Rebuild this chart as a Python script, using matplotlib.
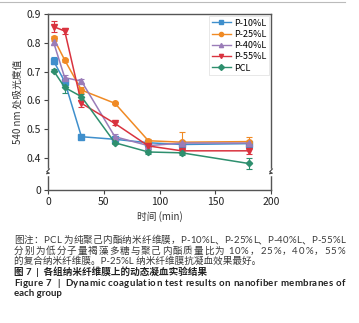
import numpy as np
import matplotlib
matplotlib.use("Agg")
import matplotlib.pyplot as plt
from matplotlib.lines import Line2D

plt.rcParams['font.family'] = ['Noto Sans CJK SC', 'DejaVu Sans']

# time points (min)
t = [5, 15, 30, 60, 90, 120, 180]

series_names = ['P-10%L', 'P-25%L', 'P-40%L', 'P-55%L', 'PCL']
p10 = [0.737, 0.665, 0.474, 0.465, 0.453, 0.447, 0.450]
p25 = [0.816, 0.740, 0.636, 0.590, 0.460, 0.455, 0.457]
p40 = [0.802, 0.679, 0.667, 0.474, 0.443, 0.452, 0.452]
p55 = [0.856, 0.841, 0.590, 0.520, 0.442, 0.425, 0.425]
pcl = [0.703, 0.645, 0.613, 0.453, 0.421, 0.418, 0.381]

p10_err = [0.012, 0.008, 0.004, 0.004, 0.004, 0.006, 0.005]
p25_err = [0.008, 0.005, 0.010, 0.004, 0.005, 0.036, 0.017]
p40_err = [0.008, 0.008, 0.006, 0.008, 0.004, 0.005, 0.006]
p55_err = [0.020, 0.012, 0.012, 0.005, 0.005, 0.008, 0.010]
pcl_err = [0.006, 0.020, 0.010, 0.006, 0.008, 0.006, 0.020]

colors = ['#3f8fcc', '#f08a24', '#9a7cb8', '#d9333f', '#2e8f6e']
markers = ['s', 'o', '^', 'v', 'D']

values = [p10, p25, p40, p55, pcl]
errors = [p10_err, p25_err, p40_err, p55_err, pcl_err]

# caption lines: text, weight, justified
caption = [
    ('图注：PCL 为纯聚己内酯纳米纤维膜，P-10%L、P-25%L、P-40%L、P-55%L', 'normal', True),
    ('分别为低分子量褐藻多糖与聚己内酯质量比为 10%，25%，40%，55%', 'normal', True),
    ('的复合纳米纤维膜。P-25%L 纳米纤维膜抗凝血效果最好。', 'normal', False),
    ('图 7  |  各组纳米纤维膜上的动态凝血实验结果', 'bold', False),
    ('Figure 7  |  Dynamic coagulation test results on nanofiber membranes of', 'bold', True),
    ('each group', 'bold', False),
]
caption_y = [243, 254, 264, 275, 286, 296]  # baselines, px from top

# broken y axis: compress 0..yb into a short strip
yb = 0.348
k = 0.059 / yb


def fwd(y):
    y = np.asarray(y, dtype=float)
    return np.where(y >= yb, y, yb - (yb - y) * k)


def inv(y):
    y = np.asarray(y, dtype=float)
    return np.where(y >= yb, y, yb - (yb - y) / k)


W, H = 359, 323
fig = plt.figure(figsize=(W / 100, H / 100), dpi=100)
ax = fig.add_axes([48 / W, 1 - 190 / H, (271 - 48) / W, (190 - 14) / H])
ax.set_yscale('function', functions=(fwd, inv))

for name, v, e, c, m in zip(series_names, values, errors, colors, markers):
    ms = 3.2 if m == 'D' else 4
    ax.errorbar(t, v, yerr=e, color=c, marker=m, markersize=ms, lw=1.1,
                capsize=2, elinewidth=0.8, capthick=0.8, label=name)

ax.set_xlim(0, 200)
ax.set_ylim(0, 0.9)
ax.set_xticks([0, 50, 100, 150, 200])
ax.set_yticks([0, 0.4, 0.5, 0.6, 0.7, 0.8, 0.9])
ax.set_yticklabels(['0', '0.4', '0.5', '0.6', '0.7', '0.8', '0.9'])
ax.tick_params(labelsize=7.5, length=3, width=0.8, color='#444444',
               labelcolor='#222222', pad=2)
for s in ax.spines.values():
    s.set_color('#555555')
    s.set_linewidth(1.0)

ax.set_xlabel('时间 (min)', fontsize=7, color='#333333', labelpad=3)
ax.set_ylabel('540 nm 处吸光度值', fontsize=7, color='#333333', labelpad=3)

# break marks on both spines
tr = ax.get_yaxis_transform()
for xa in (0, 1):
    ax.plot([xa, xa], [yb - 0.012, yb + 0.012], transform=tr, color='white',
            lw=2.5, clip_on=False, zorder=5)
    zx = np.array([-0.006, 0.006, -0.006, 0.006]) + xa
    zy = np.array([yb - 0.014, yb - 0.004, yb + 0.004, yb + 0.014])
    ax.plot(zx, zy, transform=tr, color='#444444', lw=0.8,
            clip_on=False, zorder=6)

handles = [Line2D([0], [0], color=c, marker=m, markersize=3, lw=1.0)
           for c, m in zip(colors, markers)]
leg = ax.legend(handles, series_names, loc='upper right', fontsize=6.5,
                frameon=True, fancybox=False, handlelength=2.2,
                handletextpad=0.3, borderpad=0.3, labelspacing=0.25,
                borderaxespad=0.2)
leg.get_frame().set_edgecolor('#dddddd')
leg.get_frame().set_linewidth(0.6)

# page border line at the top
fig.add_artist(Line2D([0, 345 / W], [1 - 1.5 / H, 1 - 1.5 / H],
                      color='#bbbbbb', lw=0.8))

# caption, justified like the printed page
cap_family = ['Lato', 'Noto Sans CJK SC']
cap_size = 6.9
x0, x1 = 14, 345
renderer = fig.canvas.get_renderer()
probe = fig.text(0, 0, '', fontsize=cap_size, family=cap_family)


def width_of(s, weight):
    probe.set_fontweight(weight)
    probe.set_text('x' + s + 'x')
    w1 = probe.get_window_extent(renderer).width
    probe.set_text('xx')
    return w1 - probe.get_window_extent(renderer).width


for (txt, weight, just), y in zip(caption, caption_y):
    color = '#222222' if weight == 'bold' else '#3a3a3a'
    yy = 1 - y / H
    if not just:
        fig.text(x0 / W, yy, txt, fontsize=cap_size, family=cap_family,
                 fontweight=weight, color=color, va='baseline', ha='left')
        continue
    pos = [width_of(txt[:i], weight) for i in range(len(txt) + 1)]
    extra = max(0.0, (x1 - x0 - pos[-1]) / (len(txt) - 1))
    for i, ch in enumerate(txt):
        if ch == ' ':
            continue
        fig.text((x0 + pos[i] + i * extra) / W, yy, ch, fontsize=cap_size,
                 family=cap_family, fontweight=weight, color=color,
                 va='baseline', ha='left')
probe.remove()

fig.savefig('out.png', dpi=100)
